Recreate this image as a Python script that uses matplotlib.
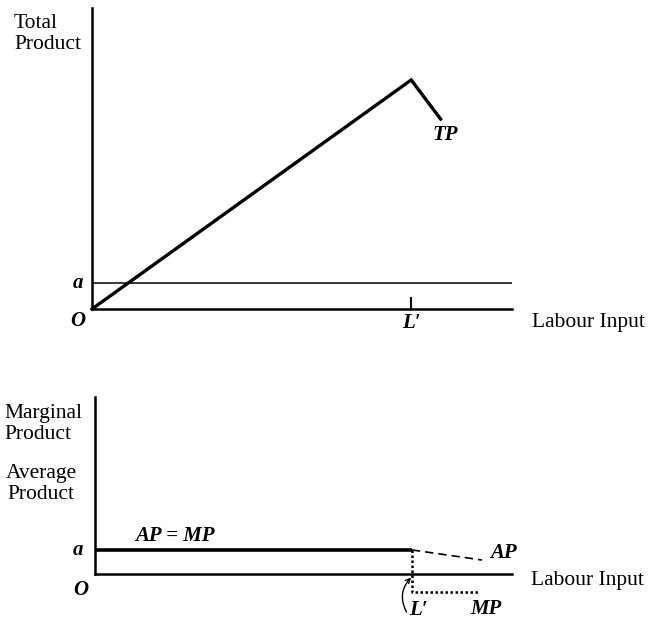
import matplotlib
matplotlib.use("Agg")
import matplotlib.pyplot as plt

# ---- data (economic units) ----
labour_tp = [0.0, 0.76, 0.83]          # labour input points for TP
tp_values = [0.0, 0.761, 0.631]        # total product
a_level = 0.086                        # level a in top panel
labour_L = 0.76                        # L'

labour_apmp = [0.0, 0.76]              # AP = MP constant segment
apmp_values = [0.136, 0.136]
labour_ap = [0.76, 0.928]              # AP declining (dashed)
ap_values = [0.136, 0.079]
labour_mp = [0.76, 0.76, 0.923]        # MP drops (dotted)
mp_values = [0.136, -0.10, -0.10]

top_ylabel = "Total\nProduct"
bot_ylabel1 = "Marginal\nProduct"
bot_ylabel2 = "Average\nProduct"
xlabel = "Labour Input"

plt.rcParams['font.family'] = ['Liberation Serif', 'DejaVu Serif']
FS = 15.5
FSI = 15

fig = plt.figure(figsize=(6.52, 6.21), dpi=100)

def fx(px): return px / 652
def fy(py): return 1 - py / 621

# ---------- top panel ----------
ax1 = fig.add_axes([fx(92), fy(309), fx(420), 301 / 621])
ax1.set_xlim(0, 1)
ax1.set_ylim(0, 1)
for s in ['top', 'right']:
    ax1.spines[s].set_visible(False)
for s in ['left', 'bottom']:
    ax1.spines[s].set_linewidth(1.8)
ax1.set_xticks([])
ax1.set_yticks([])
ax1.axhline(a_level, color='black', lw=1.1)
ax1.plot(labour_tp, tp_values, color='black', lw=2.4, solid_joinstyle='miter', clip_on=False)
ax1.plot([labour_L, labour_L], [0, 0.035], color='black', lw=1.5)
ax1.text(-0.033, a_level, "a", ha='center', va='center', fontsize=FSI, style='italic', weight='bold')
ax1.text(-0.033, -0.04, "O", ha='center', va='center', fontsize=FSI, style='italic', weight='bold')
ax1.text(labour_L, -0.045, "L\u2032", ha='center', va='center', fontsize=FSI, style='italic', weight='bold')
ax1.text(1.048, -0.046, xlabel, ha='left', va='center', fontsize=FS)
ax1.text(0.81, 0.578, "TP", ha='left', va='center', fontsize=FSI, style='italic', weight='bold')
fig.text(fx(14), fy(34), top_ylabel, ha='left', va='center', fontsize=FS, linespacing=1.1)

# ---------- bottom panel ----------
ax2 = fig.add_axes([fx(95), fy(574), fx(417), 177 / 621])
ax2.set_xlim(0, 1)
ax2.set_ylim(0, 1)
for s in ['top', 'right']:
    ax2.spines[s].set_visible(False)
for s in ['left', 'bottom']:
    ax2.spines[s].set_linewidth(1.8)
ax2.set_xticks([])
ax2.set_yticks([])
ax2.plot(labour_apmp, apmp_values, color='black', lw=2.6, solid_capstyle='butt')
ax2.plot(labour_ap, ap_values, color='black', lw=1.2, ls=(0, (5, 3)), clip_on=False)
ax2.plot(labour_mp, mp_values, color='black', lw=1.8, ls=(0, (1, 1)), clip_on=False)
ax2.text(0.096, 0.215, "AP = MP", ha='left', va='center', fontsize=FSI, style='italic', weight='bold')
ax2.text(0.947, 0.12, "AP", ha='left', va='center', fontsize=FSI, style='italic', weight='bold')
ax2.text(0.9, -0.2, "MP", ha='left', va='center', fontsize=FSI, style='italic', weight='bold')
ax2.text(-0.04, apmp_values[0], "a", ha='center', va='center', fontsize=FSI, style='italic', weight='bold')
ax2.text(-0.035, -0.09, "O", ha='center', va='center', fontsize=FSI, style='italic', weight='bold')
ax2.text(1.045, -0.035, xlabel, ha='left', va='center', fontsize=FS)
ax2.text(0.775, -0.205, "L\u2032", ha='center', va='center', fontsize=FSI, style='italic', weight='bold')
ax2.annotate("", xy=(labour_L - 0.002, -0.02), xytext=(0.747, -0.215),
             annotation_clip=False,
             arrowprops=dict(arrowstyle='->', lw=1.0, color='black', mutation_scale=8,
                             connectionstyle='arc3,rad=-0.35', shrinkA=0, shrinkB=0))
fig.text(fx(4), fy(424), bot_ylabel1, ha='left', va='center', fontsize=FS, linespacing=1.15)
fig.text(fx(41), fy(484), bot_ylabel2, ha='center', va='center', fontsize=FS, linespacing=1.15)

fig.savefig("out.png", dpi=100)
